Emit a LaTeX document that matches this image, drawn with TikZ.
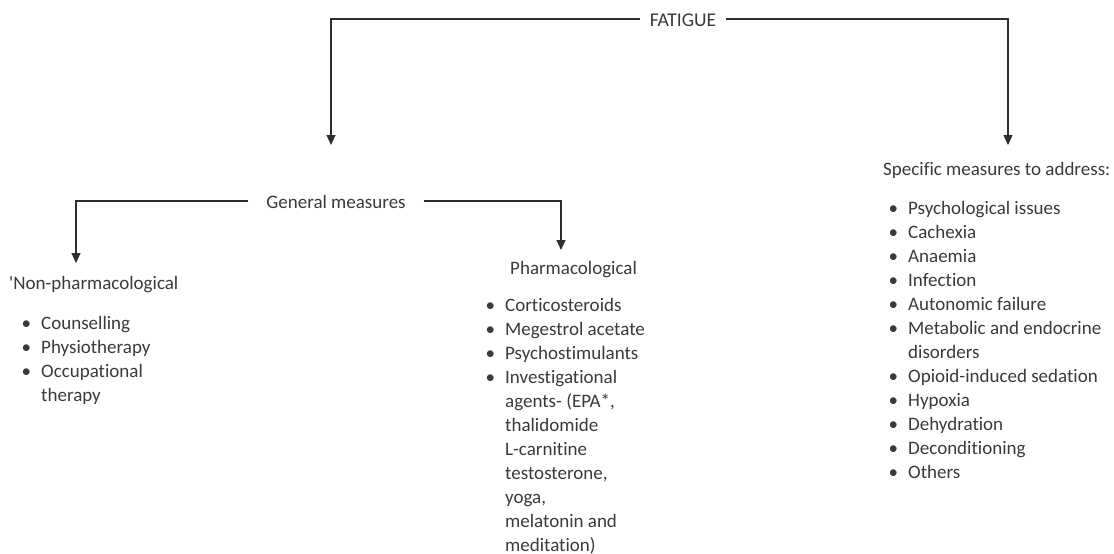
\documentclass[tikz,border=0pt]{standalone}
\usepackage{fontspec}
\setmainfont{Carlito}[Ligatures=NoCommon]
\usetikzlibrary{arrows.meta}
\definecolor{txt}{HTML}{3A3A3A}
\definecolor{ln}{HTML}{2E2E2E}
\tikzset{
  lbl/.style={inner sep=0pt, text=txt, font=\fontsize{19}{24}\selectfont},
  conn/.style={draw=ln, line width=1.2pt},
  arr/.style={conn, -{Triangle[width=9pt,length=10pt]}},
}
\newcommand{\bulletmark}[1]{\makebox[0pt][r]{#1\hspace{10pt}}}
\begin{document}
\begin{tikzpicture}[x=1pt,y=-1pt]
\useasboundingbox[fill=white] (0,0) rectangle (1114,554);
% top
\node[lbl, anchor=base, inner xsep=10pt, font=\fontsize{19.5}{24}\selectfont] (fat) at (683,26) {FATIGUE};
\coordinate (fl) at (331,19);
\coordinate (fr) at (1008,19);
\coordinate (ftl) at (331,145);
\coordinate (ftr) at (1008,145);
\draw[arr] (fat.west |- fl) -- (fl) -- (ftl);
\draw[arr] (fat.east |- fr) -- (fr) -- (ftr);
% general measures
\node[lbl, anchor=base, inner xsep=18pt] (gm) at (336,208) {General measures};
\coordinate (gl) at (76,201);
\coordinate (gr) at (561,201);
\coordinate (gtl) at (76,263);
\coordinate (gtr) at (561,250);
\draw[arr] (gm.west |- gl) -- (gl) -- (gtl);
\draw[arr] (gm.east |- gr) -- (gr) -- (gtr);
% headings
\node[lbl, anchor=base west] (np) at (9,289) {\textquotesingle Non-pharmacological};
\node[lbl, anchor=base west] (ph) at (510,274) {Pharmacological};
\node[lbl, anchor=base west] (sp) at (883,175) {Specific measures to address:};
% lists
\foreach \b/\t [count=\i] in {\textbullet/Counselling, \textbullet/Physiotherapy, \textbullet/Occupational, /therapy}
  \node[lbl, anchor=base west] (n\i) at (41,{329+24*(\i-1)}) {\bulletmark{\b}\t};
\foreach \b/\t [count=\i] in {\textbullet/Corticosteroids, \textbullet/Megestrol acetate, \textbullet/Psychostimulants, \textbullet/Investigational, /{agents- (EPA*,}, /thalidomide, /L-carnitine, /{testosterone,}, /{yoga,}, /melatonin and, /meditation)}
  \node[lbl, anchor=base west] (p\i) at (505,{311+24*(\i-1)}) {\bulletmark{\b}\t};
\foreach \b/\t [count=\i] in {\textbullet/Psychological issues, \textbullet/Cachexia, \textbullet/Anaemia, \textbullet/Infection, \textbullet/Autonomic failure, \textbullet/Metabolic and endocrine, /disorders, \textbullet/Opioid-induced sedation, \textbullet/Hypoxia, \textbullet/Dehydration, \textbullet/Deconditioning, \textbullet/Others}
  \node[lbl, anchor=base west] (r\i) at (908,{214+24*(\i-1)}) {\bulletmark{\b}\t};
\end{tikzpicture}
\end{document}
